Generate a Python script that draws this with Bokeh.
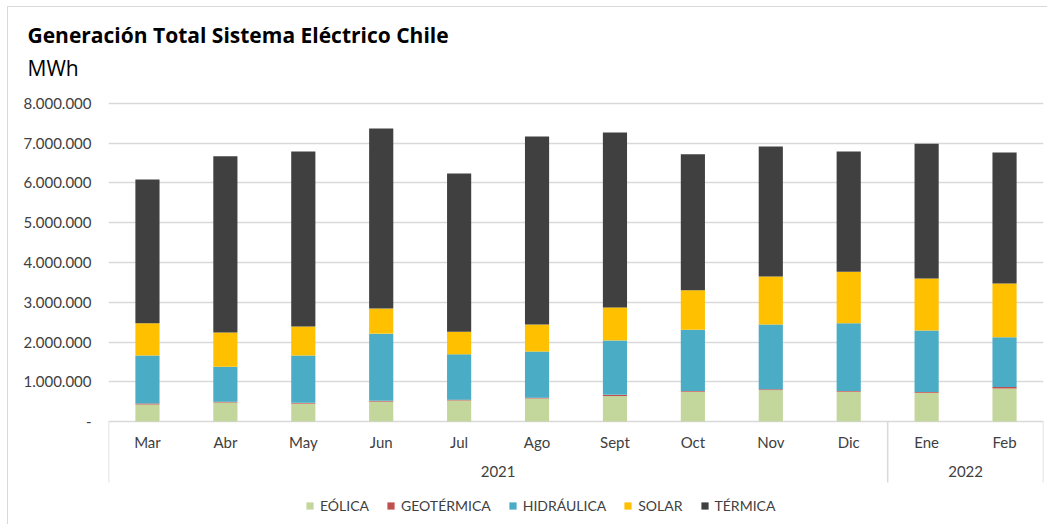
from bokeh.plotting import figure
from bokeh.models import (FactorRange, Range1d, FixedTicker, CustomJSTickFormatter,
                          ColumnDataSource, Legend, LegendItem, Title)
from bokeh.core.properties import value
from bokeh.embed import file_html
from bokeh.resources import INLINE

# ---- data (MWh) ----
meses = ["Mar", "Abr", "May", "Jun", "Jul", "Ago", "Sept", "Oct", "Nov", "Dic", "Ene", "Feb"]
anios = ["2021", "2022"]
anio_centro = [("Jul", 0.5), ("Ene", 0.5)]
eolica = [430000, 480000, 450000, 500000, 530000, 580000, 640000, 750000, 790000, 750000, 720000, 830000]
geotermica = [20000, 20000, 20000, 20000, 20000, 20000, 30000, 20000, 20000, 20000, 20000, 40000]
hidraulica = [1210000, 880000, 1190000, 1690000, 1140000, 1160000, 1370000, 1540000, 1630000, 1700000, 1550000, 1250000]
solar = [810000, 860000, 730000, 630000, 570000, 680000, 830000, 990000, 1210000, 1300000, 1310000, 1350000]
termica = [3620000, 4430000, 4400000, 4530000, 3980000, 4730000, 4400000, 3420000, 3270000, 3020000, 3390000, 3300000]
y_ticks = [0, 1000000, 2000000, 3000000, 4000000, 5000000, 6000000, 7000000, 8000000]
series = ["EÓLICA", "GEOTÉRMICA", "HIDRÁULICA", "SOLAR", "TÉRMICA"]
colores = ["#C3D69B", "#C0504D", "#4BACC6", "#FFC000", "#404040"]

FONT = "Lato"
TFONT = "Open Sans"
TXT = "#404040"

src = ColumnDataSource(dict(mes=meses, eolica=eolica, geotermica=geotermica,
                            hidraulica=hidraulica, solar=solar, termica=termica))

p = figure(width=1040, height=518, x_range=FactorRange(factors=meses, range_padding=0),
           y_range=Range1d(-2616000, 8377000), output_backend="svg", toolbar_location=None,
           x_axis_location=None, min_border_left=100, min_border_right=5,
           min_border_top=81, min_border_bottom=0)
p.outline_line_color = None
p.background_fill_color = "white"
p.border_fill_color = "white"
p.styles = {"margin-left": "7px", "margin-top": "6px",
            "border-left": "1px solid #d9d9d9", "border-top": "1px solid #d9d9d9"}

ticker = FixedTicker(ticks=y_ticks)
p.yaxis.ticker = ticker
p.ygrid.ticker = ticker
p.yaxis.formatter = CustomJSTickFormatter(code="""
    if (tick == 0) { return '-'; }
    return Math.round(tick).toString().replace(/\\B(?=(\\d{3})+(?!\\d))/g, '.');
""")
p.yaxis.axis_line_color = None
p.yaxis.major_tick_line_color = None
p.yaxis.minor_tick_line_color = None
p.yaxis.major_tick_out = 0
p.yaxis.major_tick_in = 0
p.yaxis.major_label_standoff = 17
p.yaxis.major_label_text_font = FONT
p.yaxis.major_label_text_font_size = "15px"
p.yaxis.major_label_text_color = TXT
p.ygrid.grid_line_color = "#d9d9d9"
p.ygrid.grid_line_width = 1.5
p.xgrid.grid_line_color = None

rs = p.vbar_stack(["eolica", "geotermica", "hidraulica", "solar", "termica"], x="mes",
                  width=0.31, color=colores, line_color=None, source=src)

# category separators below the axis
sep = ColumnDataSource(dict(x=[("Mar", -0.5), ("Dic", 0.5), ("Feb", 0.5)]))
p.segment(x0="x", y0=0, x1="x", y1=-1535000, source=sep, line_color="#d9d9d9", line_width=1.5)

# month labels and year labels
p.text(x="mes", y=-520000, text="mes", source=src, text_align="center", text_baseline="middle",
       text_font=value(FONT), text_font_size="15px", text_color=TXT)
ysrc = ColumnDataSource(dict(x=anio_centro, t=anios))
p.text(x="x", y=-1270000, text="t", source=ysrc, text_align="center", text_baseline="middle",
       text_font=value(FONT), text_font_size="15px", text_color=TXT)

legend = Legend(items=[LegendItem(label=s, renderers=[r]) for s, r in zip(series, rs)],
                location=(197, 11), orientation="horizontal", margin=0, padding=0,
                spacing=17, glyph_width=9, glyph_height=9, label_standoff=6,
                label_text_font=FONT, label_text_font_size="14px", label_text_color=TXT,
                border_line_color=None, background_fill_alpha=0, label_height=16)
p.add_layout(legend)

t_unit = Title(text="MWh", text_font=TFONT, text_font_size="21px", text_font_style="normal",
               align="left", offset=-81, text_color="#000000", standoff=14)
t_main = Title(text="Generación Total Sistema Eléctrico Chile", text_font=TFONT,
               text_font_size="21px", text_font_style="bold", align="left", offset=-81,
               text_color="#000000", standoff=-8)
p.add_layout(t_unit, "above")
p.add_layout(t_main, "above")

open("out.html", "w").write(file_html(p, INLINE))
